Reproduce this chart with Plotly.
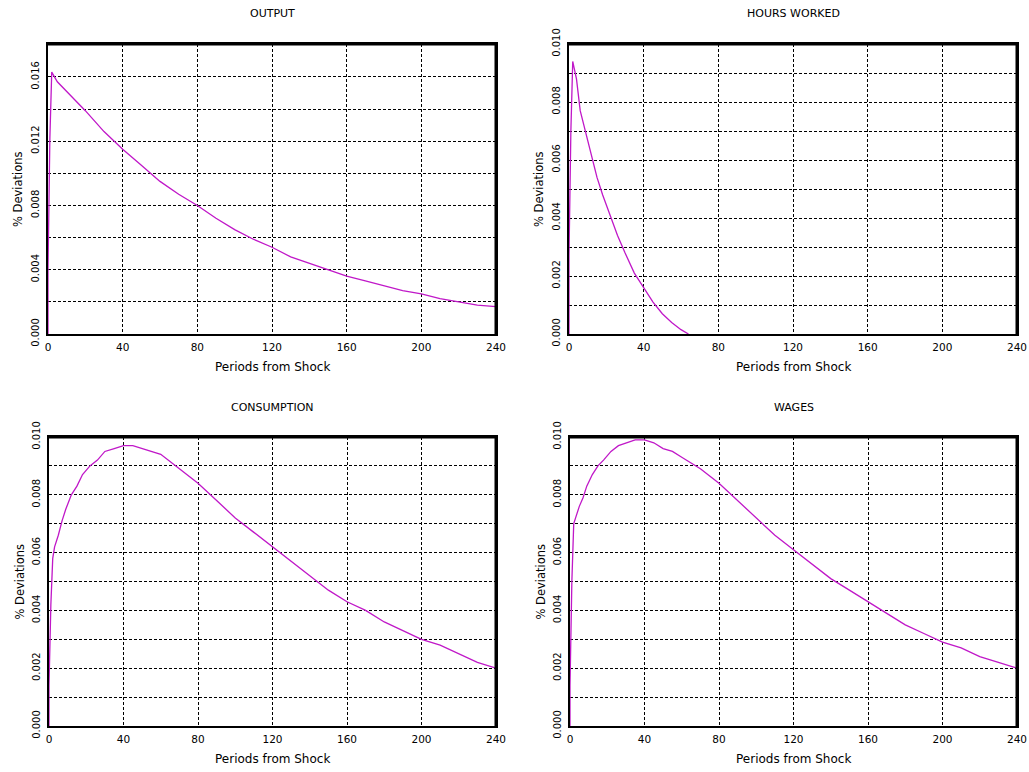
import plotly.graph_objects as go

W, H = 1029, 772

# Impulse responses (% deviations) by period after the shock
output_t = [0, 0, 1, 2, 5, 10, 15, 20, 30, 40, 50, 60, 70, 80, 90, 100, 110, 120, 130,
            140, 150, 160, 170, 180, 190, 200, 210, 220, 230, 240]
output_v = [0.0, 0.0040, 0.0122, 0.0163, 0.0157, 0.0151, 0.0145, 0.0139, 0.0126, 0.0115,
            0.0105, 0.0095, 0.0087, 0.0080, 0.0072, 0.0065, 0.0059, 0.0054, 0.0048,
            0.0044, 0.0040, 0.0036, 0.0033, 0.0030, 0.0027, 0.0025, 0.0022, 0.0020,
            0.0018, 0.0017]

hours_t = [0, 0, 1, 2, 3, 4, 6, 8, 10, 12, 15, 18, 22, 26, 30, 35, 40, 45, 50, 55, 60, 64]
hours_v = [0.0, 0.0027, 0.0070, 0.0094, 0.0091, 0.0088, 0.0077, 0.0072, 0.0066, 0.0061,
           0.0054, 0.0048, 0.0041, 0.0034, 0.0028, 0.0021, 0.0016, 0.0011, 0.0007,
           0.0004, 0.00015, 0.0]

consumption_t = [0, 0, 1, 2, 3, 5, 7, 9, 12, 15, 18, 22, 26, 30, 35, 40, 45, 50, 55, 60,
                 70, 80, 90, 100, 110, 120, 130, 140, 150, 160, 170, 180, 190, 200, 210,
                 220, 230, 240]
consumption_v = [0.0, 0.0014, 0.0042, 0.0058, 0.0062, 0.0066, 0.0071, 0.0075, 0.0080,
                 0.0083, 0.0087, 0.0090, 0.0092, 0.0095, 0.0096, 0.0097, 0.0097, 0.0096,
                 0.0095, 0.0094, 0.0089, 0.0084, 0.0078, 0.0072, 0.0067, 0.0062, 0.0057,
                 0.0052, 0.0047, 0.0043, 0.0040, 0.0036, 0.0033, 0.0030, 0.0028, 0.0025,
                 0.0022, 0.0020]

wages_t = [0, 0, 1, 2, 3, 5, 7, 9, 12, 15, 18, 22, 26, 30, 35, 40, 45, 50, 55, 60, 70, 80,
           90, 100, 110, 120, 130, 140, 150, 160, 170, 180, 190, 200, 210, 220, 230, 240]
wages_v = [0.0, 0.0014, 0.0050, 0.0070, 0.0072, 0.0076, 0.0079, 0.0083, 0.0087, 0.0090,
           0.0092, 0.0095, 0.0097, 0.0098, 0.0099, 0.0099, 0.0098, 0.0096, 0.0095, 0.0093,
           0.0089, 0.0084, 0.0078, 0.0072, 0.0066, 0.0061, 0.0056, 0.0051, 0.0047, 0.0043,
           0.0039, 0.0035, 0.0032, 0.0029, 0.0027, 0.0024, 0.0022, 0.0020]

x_ticks = [0, 40, 80, 120, 160, 200, 240]

LINE = "#c018c8"
FONT = "DejaVu Sans"
GRID_DASH = "3px,2px"


def px(x):
    return x / W


def py(y):
    return 1 - y / H


# (title, periods, values, y max, labelled step, grid step, box left/top/right/bottom in px)
panels = [
    ("OUTPUT", output_t, output_v, 0.01805, 0.004, 0.002, (48, 44, 496, 334)),
    ("HOURS WORKED", hours_t, hours_v, 0.010, 0.002, 0.001, (569, 44, 1017, 334)),
    ("CONSUMPTION", consumption_t, consumption_v, 0.010, 0.002, 0.001, (49, 437, 496, 726)),
    ("WAGES", wages_t, wages_v, 0.010, 0.002, 0.001, (570, 437, 1017, 726)),
]

fig = go.Figure()
layout = dict(
    width=W, height=H,
    margin=dict(l=0, r=0, t=0, b=0, pad=0, autoexpand=False),
    paper_bgcolor="white", plot_bgcolor="white",
    showlegend=False,
    font=dict(family=FONT, color="black", size=10),
)
annotations = []
shapes = []

for i, (title, t, v, ymax, ystep, yminor, box) in enumerate(panels, start=1):
    left, top, right, bottom = box
    xa = "x" if i == 1 else f"x{i}"
    ya = "y" if i == 1 else f"y{i}"
    fig.add_trace(go.Scatter(x=t, y=v, mode="lines", xaxis=xa, yaxis=ya,
                             line=dict(color=LINE, width=1.3)))

    yticks = []
    k = 0
    while k * ystep <= ymax + 1e-9:
        yticks.append(round(k * ystep, 6))
        k += 1

    layout["xaxis" if i == 1 else f"xaxis{i}"] = dict(
        domain=[px(left), px(right)], anchor=ya, range=[0, 240], automargin=False,
        tickvals=x_ticks, ticks="", showgrid=True, gridcolor="black", gridwidth=1,
        griddash=GRID_DASH, showline=True, mirror=True, linecolor="black", linewidth=2,
        zeroline=False, tickfont=dict(size=10.5), ticklabelstandoff=2,
    )
    layout["yaxis" if i == 1 else f"yaxis{i}"] = dict(
        domain=[py(bottom), py(top)], anchor=xa, range=[0, ymax], automargin=False,
        tickvals=yticks, tickformat=".3f", tickangle=-90, ticks="",
        showgrid=True, gridcolor="black", gridwidth=1, griddash=GRID_DASH,
        minor=dict(tick0=0, dtick=yminor, showgrid=True, gridcolor="black",
                   gridwidth=1, griddash=GRID_DASH, ticks=""),
        showline=True, mirror=True, linecolor="black", linewidth=2, zeroline=False,
        tickfont=dict(size=10), ticklabelstandoff=3,
    )

    # heavier top and right edges of the frame
    shapes.append(dict(type="line", xref=f"{xa} domain", yref=f"{ya} domain",
                       x0=0, x1=1, y0=1, y1=1, line=dict(color="black", width=3)))
    shapes.append(dict(type="line", xref=f"{xa} domain", yref=f"{ya} domain",
                       x0=1, x1=1, y0=0, y1=1, line=dict(color="black", width=3)))

    cx = (left + right) / 2
    annotations.append(dict(text=title, x=px(cx), y=py(top - 30), xref="paper", yref="paper",
                            showarrow=False, xanchor="center", yanchor="middle",
                            font=dict(size=11)))
    annotations.append(dict(text="Periods from Shock", x=px(cx), y=py(bottom + 33),
                            xref="paper", yref="paper", showarrow=False,
                            xanchor="center", yanchor="middle", font=dict(size=12)))
    annotations.append(dict(text="% Deviations", x=px(left - 30), y=py((top + bottom) / 2),
                            xref="paper", yref="paper", showarrow=False, textangle=-90,
                            xanchor="center", yanchor="middle", font=dict(size=11.5)))

layout["annotations"] = annotations
layout["shapes"] = shapes
fig.update_layout(**layout)
fig.write_html("out.html")
